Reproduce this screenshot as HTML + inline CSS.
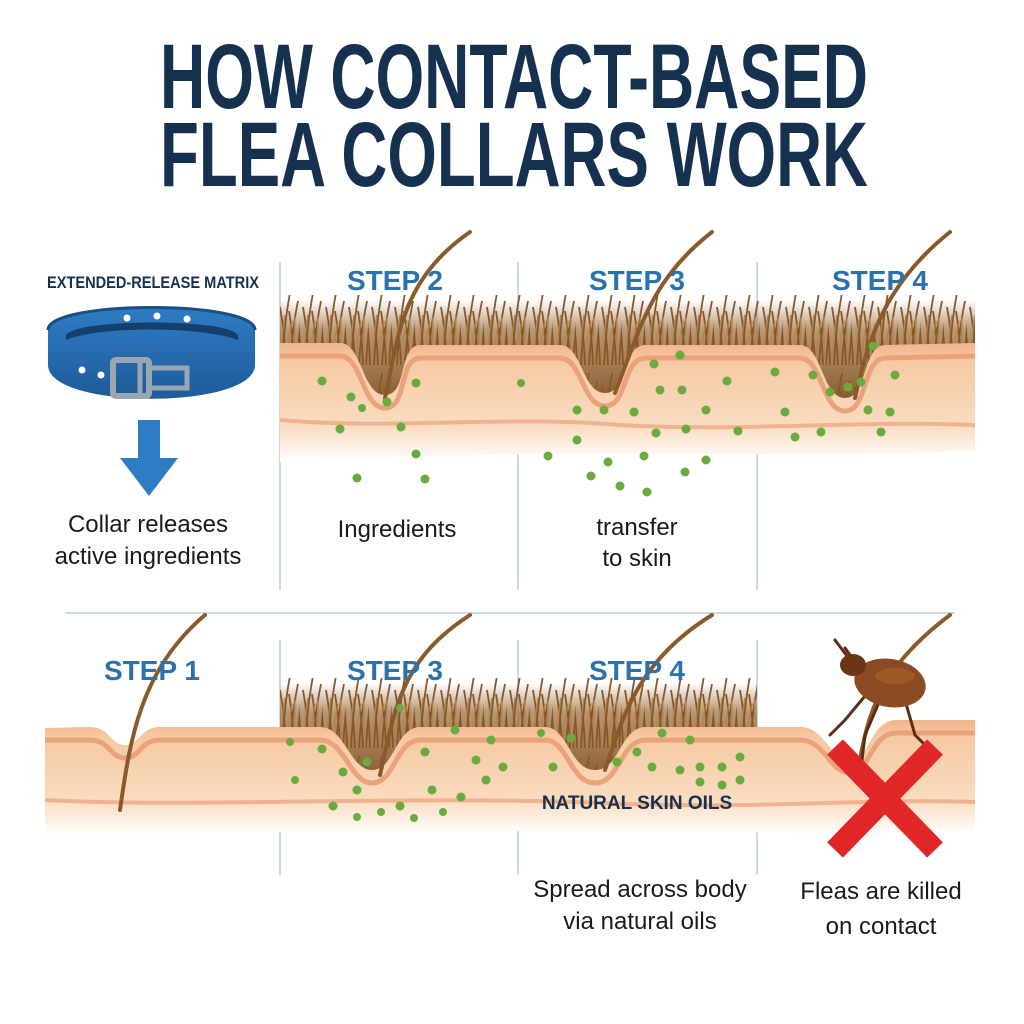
<!DOCTYPE html>
<html><head><meta charset="utf-8"><style>
body{margin:0;background:#fff;}
svg{display:block}
text{font-family:"Liberation Sans",sans-serif;}
</style></head><body>
<svg width="1024" height="1024" viewBox="0 0 1024 1024">
<defs>
<pattern id="fur" x="0" y="285" width="23" height="80" patternUnits="userSpaceOnUse">
<path d="M2,80 Q1,45 -4,12 M6,80 Q8,40 14,8 M10,80 Q9,50 4,22 M14,80 Q16,45 22,16 M18,80 Q17,50 13,26 M21,80 Q23,45 28,10" stroke="#86572a" stroke-width="1.8" fill="none"/>
<path d="M4,80 Q5,55 9,30 M12,80 Q11,60 16,36 M20,80 Q18,55 19,32" stroke="#b3844c" stroke-width="1.4" fill="none"/>
</pattern>
<pattern id="fur2" x="0" y="668" width="23" height="80" patternUnits="userSpaceOnUse">
<path d="M2,80 Q1,45 -4,12 M6,80 Q8,40 14,8 M10,80 Q9,50 4,22 M14,80 Q16,45 22,16 M18,80 Q17,50 13,26 M21,80 Q23,45 28,10" stroke="#86572a" stroke-width="1.8" fill="none"/>
<path d="M4,80 Q5,55 9,30 M12,80 Q11,60 16,36 M20,80 Q18,55 19,32" stroke="#b3844c" stroke-width="1.4" fill="none"/>
</pattern>
<linearGradient id="furbase" x1="0" y1="0" x2="0" y2="1">
<stop offset="0" stop-color="#9a6b3a" stop-opacity="0"/><stop offset="0.3" stop-color="#9a6b3a" stop-opacity="0.7"/><stop offset="1" stop-color="#8a5c2e"/>
</linearGradient>
<linearGradient id="skin" x1="0" y1="0" x2="0" y2="1">
<stop offset="0" stop-color="#f2b48d"/><stop offset="0.15" stop-color="#f6c9a3"/><stop offset="0.7" stop-color="#f9dcc0"/><stop offset="1" stop-color="#fff"/>
</linearGradient>
<linearGradient id="collar" x1="0" y1="0" x2="0" y2="1">
<stop offset="0" stop-color="#2e7cc4"/><stop offset="1" stop-color="#1e5a99"/>
</linearGradient>
</defs>

<text x="160" y="108" textLength="708" lengthAdjust="spacingAndGlyphs" font-size="92" font-weight="bold" fill="#15314f">HOW CONTACT-BASED</text>
<text x="160" y="186" textLength="708" lengthAdjust="spacingAndGlyphs" font-size="92" font-weight="bold" fill="#15314f">FLEA COLLARS WORK</text>

<g stroke="#b7cfe0" stroke-width="1.5">
<line x1="280" y1="262" x2="280" y2="590"/><line x1="518" y1="262" x2="518" y2="590"/><line x1="757" y1="262" x2="757" y2="590"/>
<line x1="65" y1="613" x2="955" y2="613"/>
<line x1="280" y1="640" x2="280" y2="875"/><line x1="518" y1="640" x2="518" y2="875"/><line x1="757" y1="640" x2="757" y2="875"/>
</g>

<rect x="280" y="300" width="695" height="100" fill="url(#furbase)"/>
<rect x="280" y="295" width="695" height="105" fill="url(#fur)"/>
<path d="M280,343 L340,343 C362,343 362,395 385,395 C408,395 398,346 420,345 L560,345 C582,345 582,393 605,393 C628,393 622,346 645,345 L800,345 C822,345 822,398 845,398 C868,398 862,346 885,345 L975,343 L975,450 C800,462 600,445 280,462 Z" fill="url(#skin)"/>
<path d="M280,356 L340,356 C362,356 362,408 385,408 C408,408 398,359 420,358 L560,358 C582,358 582,406 605,406 C628,406 622,359 645,358 L800,358 C822,358 822,411 845,411 C868,411 862,359 885,358 L975,356" stroke="#eaa27b" stroke-width="5" fill="none"/>
<path d="M280,420 C400,430 500,415 620,425 C740,432 860,420 975,425" stroke="#efb38f" stroke-width="4" fill="none"/>
<g stroke="#8a5a2b" stroke-width="4" fill="none" stroke-linecap="round">
<path d="M385,398 C398,340 400,280 470,232"/>
<path d="M615,393 C640,330 650,280 712,232"/>
<path d="M855,398 C870,330 890,280 950,232"/>
</g>
<text x="395" y="290" text-anchor="middle" font-size="28" font-weight="bold" fill="#2b72ad">STEP 2</text>
<text x="637" y="290" text-anchor="middle" font-size="28" font-weight="bold" fill="#2b72ad">STEP 3</text>
<text x="880" y="290" text-anchor="middle" font-size="28" font-weight="bold" fill="#2b72ad">STEP 4</text>

<g fill="#6aab3d">
<circle cx="322" cy="381" r="4.5"/><circle cx="351" cy="397" r="4.5"/><circle cx="362" cy="408" r="4"/><circle cx="387" cy="402" r="4.5"/><circle cx="416" cy="383" r="4.5"/><circle cx="340" cy="429" r="4.5"/><circle cx="401" cy="427" r="4.5"/><circle cx="416" cy="454" r="4.5"/><circle cx="357" cy="478" r="4.5"/><circle cx="425" cy="479" r="4.5"/>
<circle cx="680" cy="355" r="4.5"/><circle cx="654" cy="364" r="4.5"/><circle cx="660" cy="390" r="4.5"/><circle cx="682" cy="390" r="4.5"/><circle cx="727" cy="381" r="4.5"/><circle cx="577" cy="410" r="4.5"/><circle cx="604" cy="410" r="4.5"/><circle cx="634" cy="412" r="4.5"/><circle cx="706" cy="410" r="4.5"/><circle cx="686" cy="429" r="4.5"/><circle cx="656" cy="433" r="4.5"/><circle cx="738" cy="431" r="4.5"/><circle cx="548" cy="456" r="4.5"/><circle cx="577" cy="440" r="4.5"/><circle cx="608" cy="462" r="4.5"/><circle cx="644" cy="456" r="4.5"/><circle cx="706" cy="460" r="4.5"/><circle cx="591" cy="476" r="4.5"/><circle cx="620" cy="486" r="4.5"/><circle cx="685" cy="472" r="4.5"/><circle cx="647" cy="492" r="4.5"/><circle cx="521" cy="383" r="4"/>
<circle cx="775" cy="372" r="4.5"/><circle cx="813" cy="375" r="4.5"/><circle cx="848" cy="387" r="4.5"/><circle cx="873" cy="346" r="4.5"/><circle cx="895" cy="375" r="4.5"/><circle cx="861" cy="382" r="4.5"/><circle cx="830" cy="392" r="4.5"/><circle cx="785" cy="412" r="4.5"/><circle cx="868" cy="410" r="4.5"/><circle cx="890" cy="412" r="4.5"/><circle cx="821" cy="432" r="4.5"/><circle cx="795" cy="437" r="4.5"/><circle cx="881" cy="432" r="4.5"/>
</g>

<text x="397" y="537" text-anchor="middle" font-size="24" fill="#1a1a1a">Ingredients</text>
<text x="637" y="535" text-anchor="middle" font-size="24" fill="#1a1a1a">transfer</text>
<text x="637" y="566" text-anchor="middle" font-size="24" fill="#1a1a1a">to skin</text>

<text x="153" y="288" text-anchor="middle" font-size="17" font-weight="bold" fill="#15314f" textLength="212" lengthAdjust="spacingAndGlyphs">EXTENDED-RELEASE MATRIX</text>
<path d="M48,330 C48,300 255,300 255,330 L255,365 C255,410 48,410 48,365 Z" fill="url(#collar)"/>
<path d="M66,336 C70,318 235,318 238,336 L238,340 C200,326 100,326 66,340 Z" fill="#15406e"/>
<path d="M48,330 C48,300 255,300 255,330" stroke="#1a4f85" stroke-width="3" fill="none"/>
<g fill="#fff"><circle cx="127" cy="318" r="3.5"/><circle cx="157" cy="316" r="3.5"/><circle cx="187" cy="319" r="3.5"/><circle cx="82" cy="370" r="3.5"/><circle cx="101" cy="375" r="3.5"/></g>
<rect x="113" y="360" width="36" height="36" rx="3" fill="none" stroke="#9aa6b2" stroke-width="6"/>
<rect x="149" y="368" width="38" height="20" fill="none" stroke="#9aa6b2" stroke-width="5"/>
<line x1="140" y1="358" x2="140" y2="398" stroke="#9aa6b2" stroke-width="5"/>
<rect x="138" y="420" width="22" height="40" fill="#2e7cc4"/>
<polygon points="120,458 178,458 149,496" fill="#2e7cc4"/>
<text x="148" y="532" text-anchor="middle" font-size="24" fill="#1a1a1a">Collar releases</text>
<text x="148" y="564" text-anchor="middle" font-size="24" fill="#1a1a1a">active ingredients</text>

<rect x="280" y="683" width="477" height="95" fill="url(#furbase)"/>
<rect x="280" y="678" width="477" height="100" fill="url(#fur2)"/>
<path d="M45,728 L90,727 C110,727 110,745 125,745 C140,745 140,727 160,727 L320,727 C345,727 350,770 372,770 C395,770 395,728 420,727 L545,727 C568,727 570,770 595,770 C620,770 620,728 645,727 L800,727 C825,727 830,760 850,760 C870,760 870,722 895,720 L975,720 L975,830 C800,838 600,825 45,835 Z" fill="url(#skin)"/>
<path d="M45,740 L90,740 C110,740 110,758 125,758 C140,758 140,740 160,740 L320,740 C345,740 350,783 372,783 C395,783 395,741 420,740 L545,740 C568,740 570,783 595,783 C620,783 620,741 645,740 L800,740 C825,740 830,773 850,773 C870,773 870,735 895,733 L975,733" stroke="#eaa27b" stroke-width="5" fill="none"/>
<path d="M45,800 C200,808 400,795 600,803 C760,810 860,798 975,802" stroke="#efb38f" stroke-width="4" fill="none"/>
<g stroke="#8a5a2b" stroke-width="4" fill="none" stroke-linecap="round">
<path d="M120,810 C130,740 140,670 205,615"/>
<path d="M380,775 C395,710 400,660 470,615"/>
<path d="M605,770 C625,710 640,660 712,615"/>
<path d="M860,760 C870,700 890,660 950,615"/>
</g>
<text x="152" y="680" text-anchor="middle" font-size="28" font-weight="bold" fill="#2b72ad">STEP 1</text>
<text x="395" y="680" text-anchor="middle" font-size="28" font-weight="bold" fill="#2b72ad">STEP 3</text>
<text x="637" y="680" text-anchor="middle" font-size="28" font-weight="bold" fill="#2b72ad">STEP 4</text>

<g fill="#6aab3d">
<circle cx="290" cy="742" r="4"/><circle cx="322" cy="749" r="4.5"/><circle cx="343" cy="772" r="4.5"/><circle cx="357" cy="790" r="4.5"/><circle cx="367" cy="762" r="4.5"/><circle cx="295" cy="780" r="4"/><circle cx="333" cy="806" r="4.5"/><circle cx="357" cy="817" r="4"/><circle cx="381" cy="812" r="4"/><circle cx="400" cy="806" r="4.5"/><circle cx="425" cy="752" r="4.5"/><circle cx="455" cy="730" r="4.5"/><circle cx="476" cy="760" r="4.5"/><circle cx="432" cy="790" r="4.5"/><circle cx="461" cy="797" r="4.5"/><circle cx="486" cy="780" r="4.5"/><circle cx="503" cy="767" r="4.5"/><circle cx="491" cy="740" r="4.5"/><circle cx="414" cy="818" r="4"/><circle cx="443" cy="812" r="4"/><circle cx="400" cy="708" r="4"/>
<circle cx="541" cy="733" r="4"/><circle cx="571" cy="738" r="4.5"/><circle cx="553" cy="767" r="4.5"/><circle cx="617" cy="762" r="4.5"/><circle cx="637" cy="752" r="4.5"/><circle cx="662" cy="733" r="4.5"/><circle cx="652" cy="767" r="4.5"/><circle cx="680" cy="770" r="4.5"/><circle cx="700" cy="767" r="4.5"/><circle cx="722" cy="767" r="4.5"/><circle cx="740" cy="757" r="4.5"/><circle cx="700" cy="782" r="4.5"/><circle cx="722" cy="785" r="4.5"/><circle cx="740" cy="780" r="4.5"/><circle cx="690" cy="740" r="4.5"/>
</g>
<text x="637" y="809" text-anchor="middle" font-size="19" font-weight="bold" fill="#15314f">NATURAL SKIN OILS</text>
<text x="640" y="897" text-anchor="middle" font-size="24" fill="#1a1a1a">Spread across body</text>
<text x="640" y="929" text-anchor="middle" font-size="24" fill="#1a1a1a">via natural oils</text>

<g stroke="#5a2e14" stroke-width="3" fill="none" stroke-linecap="round">
<path d="M870,690 L845,720 L830,735"/><path d="M880,700 L865,735 L862,760"/><path d="M905,700 L915,735 L925,745"/>
<path d="M850,660 L835,640"/><path d="M855,662 L845,648"/>
</g>
<ellipse cx="890" cy="683" rx="36" ry="24" fill="#8a4a22" transform="rotate(10 890 683)"/>
<ellipse cx="853" cy="665" rx="13" ry="11" fill="#6b3518"/>
<ellipse cx="895" cy="676" rx="20" ry="8" fill="#a8642f" opacity="0.6"/>
<g stroke="#e02626" stroke-width="22">
<line x1="835" y1="747" x2="935" y2="850"/><line x1="935" y1="747" x2="835" y2="850"/>
</g>
<text x="881" y="899" text-anchor="middle" font-size="24" fill="#1a1a1a">Fleas are killed</text>
<text x="881" y="934" text-anchor="middle" font-size="24" fill="#1a1a1a">on contact</text>
</svg>
</body></html>
